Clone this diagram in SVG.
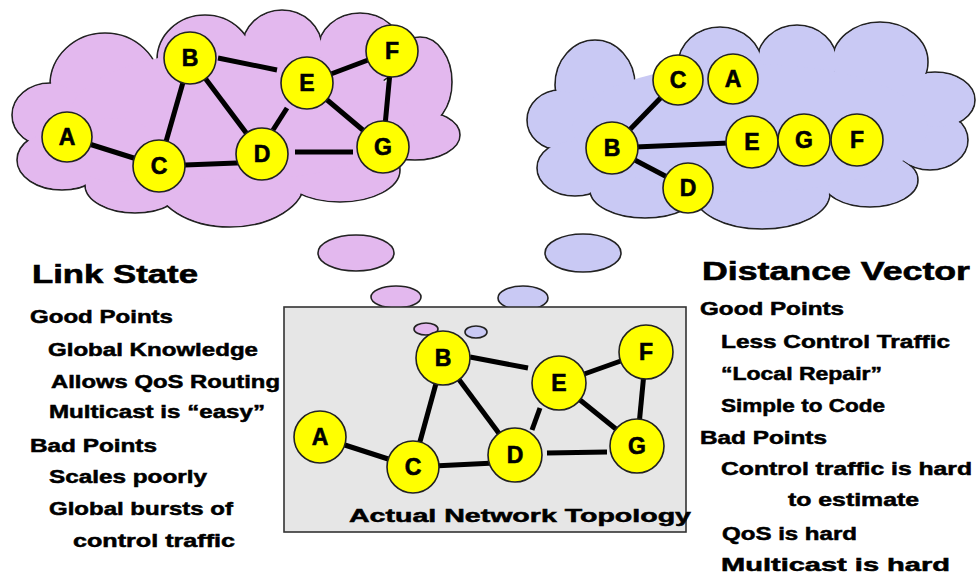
<svg xmlns="http://www.w3.org/2000/svg" width="976" height="576" viewBox="0 0 976 576">
<style>
.pk{fill:#E3B8EE}
.lv{fill:#C9C9F4}
.ol{stroke:#222;stroke-width:1.6}
.nd circle{fill:#FFFF00;stroke:#222;stroke-width:1.6}
.nd text{font-family:"Liberation Sans",Arial,sans-serif;font-weight:bold;font-size:23px;text-anchor:middle;fill:#000;stroke:#000;stroke-width:0.6}
.ed line{stroke:#000;stroke-width:5;stroke-linecap:butt}
.t{font-family:"Liberation Sans",Arial,sans-serif;font-weight:bold;fill:#000;stroke:#000;stroke-width:0.5;font-size:18px}
.h{font-size:26px;stroke-width:0.6}
</style>
<rect width="976" height="576" fill="#fff"/>

<g id="cloud-link-state">
<g class="pk ol">
<ellipse cx="105" cy="85" rx="55" ry="52"/>
<ellipse cx="50" cy="115" rx="38" ry="32"/>
<ellipse cx="62" cy="160" rx="45" ry="30"/>
<ellipse cx="135" cy="185" rx="50" ry="28"/>
<ellipse cx="230" cy="180" rx="75" ry="47"/>
<ellipse cx="340" cy="170" rx="60" ry="32"/>
<ellipse cx="415" cy="135" rx="45" ry="25"/>
<ellipse cx="420" cy="82" rx="32" ry="45"/>
<ellipse cx="360" cy="50" rx="42" ry="37"/>
<ellipse cx="282" cy="48" rx="40" ry="38"/>
<ellipse cx="205" cy="60" rx="48" ry="45"/>
</g>
<g class="pk">
<ellipse cx="105" cy="85" rx="54" ry="51"/>
<ellipse cx="50" cy="115" rx="37" ry="31"/>
<ellipse cx="62" cy="160" rx="44" ry="29"/>
<ellipse cx="135" cy="185" rx="49" ry="27"/>
<ellipse cx="230" cy="180" rx="74" ry="46"/>
<ellipse cx="340" cy="170" rx="59" ry="31"/>
<ellipse cx="415" cy="135" rx="44" ry="24"/>
<ellipse cx="420" cy="82" rx="31" ry="44"/>
<ellipse cx="360" cy="50" rx="41" ry="36"/>
<ellipse cx="282" cy="48" rx="39" ry="37"/>
<ellipse cx="205" cy="60" rx="47" ry="44"/>
<ellipse cx="240" cy="115" rx="170" ry="65"/>
<ellipse cx="115" cy="150" rx="45" ry="32"/>
</g>
</g>

<g id="cloud-distance-vector">
<g class="lv ol">
<ellipse cx="595" cy="85" rx="40" ry="45"/>
<ellipse cx="560" cy="120" rx="33" ry="30"/>
<ellipse cx="575" cy="168" rx="38" ry="28"/>
<ellipse cx="645" cy="190" rx="55" ry="28"/>
<ellipse cx="762" cy="193" rx="68" ry="36"/>
<ellipse cx="870" cy="180" rx="48" ry="27"/>
<ellipse cx="930" cy="140" rx="38" ry="30"/>
<ellipse cx="935" cy="100" rx="40" ry="28"/>
<ellipse cx="880" cy="62" rx="48" ry="40"/>
<ellipse cx="797" cy="62" rx="40" ry="37"/>
<ellipse cx="720" cy="65" rx="42" ry="38"/>
</g>
<g class="lv">
<ellipse cx="595" cy="85" rx="39" ry="44"/>
<ellipse cx="560" cy="120" rx="32" ry="29"/>
<ellipse cx="575" cy="168" rx="37" ry="27"/>
<ellipse cx="645" cy="190" rx="54" ry="27"/>
<ellipse cx="762" cy="193" rx="67" ry="35"/>
<ellipse cx="870" cy="180" rx="47" ry="26"/>
<ellipse cx="930" cy="140" rx="37" ry="29"/>
<ellipse cx="935" cy="100" rx="39" ry="27"/>
<ellipse cx="880" cy="62" rx="47" ry="39"/>
<ellipse cx="797" cy="62" rx="39" ry="36"/>
<ellipse cx="720" cy="65" rx="41" ry="37"/>
<ellipse cx="750" cy="128" rx="178" ry="64"/>
</g>
</g>

<g id="thought-bubbles">
<ellipse class="pk ol" cx="356" cy="253" rx="38" ry="18"/>
<ellipse class="pk ol" cx="396" cy="297" rx="25" ry="11"/>
<ellipse class="lv ol" cx="583" cy="253" rx="38" ry="19"/>
<ellipse class="lv ol" cx="523" cy="298" rx="25" ry="12"/>
</g>

<g id="topology-box">
<rect x="284" y="307" width="402" height="225" fill="#E6E6E6" stroke="#333" stroke-width="1.6"/>
<ellipse class="pk ol" cx="426" cy="329" rx="12" ry="6"/>
<ellipse class="lv ol" cx="476" cy="332" rx="11" ry="6"/>
<text class="t" x="349" y="522" font-size="22" textLength="342" lengthAdjust="spacingAndGlyphs">Actual Network Topology</text>
</g>

<g id="connectors" class="ed">
<line x1="218" y1="58" x2="277" y2="70"/>
<line x1="190" y1="58" x2="159" y2="166"/>
<line x1="190" y1="58" x2="262" y2="154"/>
<line x1="307" y1="83" x2="392" y2="51"/>
<line x1="307" y1="83" x2="383" y2="147"/>
<line x1="273" y1="130" x2="287" y2="108"/>
<line x1="295" y1="152" x2="353" y2="152"/>
<line x1="392" y1="51" x2="383" y2="147"/>
<line x1="67" y1="137" x2="159" y2="166"/>
<line x1="159" y1="166" x2="262" y2="162"/>
<line x1="612" y1="148" x2="678" y2="80"/>
<line x1="612" y1="148" x2="752" y2="142"/>
<line x1="612" y1="148" x2="688" y2="188" stroke-width="7"/>
<line x1="470" y1="357" x2="528" y2="368" stroke-width="4"/>
<line x1="443" y1="358" x2="413" y2="467" stroke-width="6"/>
<line x1="443" y1="358" x2="515" y2="455" stroke-width="5"/>
<line x1="559" y1="383" x2="646" y2="352" stroke-width="6"/>
<line x1="559" y1="383" x2="637" y2="446" stroke-width="6"/>
<line x1="532" y1="430" x2="540" y2="408" stroke-width="4"/>
<line x1="547" y1="453" x2="607" y2="452" stroke-width="6"/>
<line x1="646" y1="352" x2="637" y2="446" stroke-width="6"/>
<line x1="320" y1="437" x2="413" y2="467" stroke-width="6"/>
<line x1="413" y1="467" x2="515" y2="462" stroke-width="6"/>
</g>

<g id="ls-A" class="nd"><circle cx="67" cy="137" r="25"/><text x="67" y="145">A</text></g>
<g id="ls-B" class="nd"><circle cx="190" cy="58" r="26"/><text x="190" y="66">B</text></g>
<g id="ls-C" class="nd"><circle cx="159" cy="166" r="26"/><text x="159" y="174">C</text></g>
<g id="ls-D" class="nd"><circle cx="262" cy="154" r="26"/><text x="262" y="162">D</text></g>
<g id="ls-E" class="nd"><circle cx="307" cy="83" r="26"/><text x="307" y="91">E</text></g>
<g id="ls-F" class="nd"><circle cx="392" cy="51" r="26"/><text x="392" y="59">F</text></g>
<g id="ls-G" class="nd"><circle cx="383" cy="147" r="26"/><text x="383" y="155">G</text></g>

<g id="dv-C" class="nd"><circle cx="678" cy="80" r="25"/><text x="678" y="88">C</text></g>
<g id="dv-A" class="nd"><circle cx="733" cy="79" r="25"/><text x="733" y="87">A</text></g>
<g id="dv-B" class="nd"><circle cx="612" cy="148" r="26"/><text x="612" y="156">B</text></g>
<g id="dv-D" class="nd"><circle cx="688" cy="188" r="25"/><text x="688" y="196">D</text></g>
<g id="dv-E" class="nd"><circle cx="752" cy="142" r="26"/><text x="752" y="150">E</text></g>
<g id="dv-G" class="nd"><circle cx="804" cy="140" r="26"/><text x="804" y="148">G</text></g>
<g id="dv-F" class="nd"><circle cx="857" cy="140" r="26"/><text x="857" y="148">F</text></g>

<g id="net-A" class="nd"><circle cx="320" cy="437" r="26"/><text x="320" y="445">A</text></g>
<g id="net-B" class="nd"><circle cx="443" cy="358" r="27"/><text x="443" y="366">B</text></g>
<g id="net-C" class="nd"><circle cx="413" cy="467" r="26"/><text x="413" y="475">C</text></g>
<g id="net-D" class="nd"><circle cx="515" cy="455" r="27"/><text x="515" y="463">D</text></g>
<g id="net-E" class="nd"><circle cx="559" cy="383" r="27"/><text x="559" y="391">E</text></g>
<g id="net-F" class="nd"><circle cx="646" cy="352" r="27"/><text x="646" y="360">F</text></g>
<g id="net-G" class="nd"><circle cx="637" cy="446" r="27"/><text x="637" y="454">G</text></g>

<g id="link-state-text">
<text class="t h" x="32" y="283" textLength="166" lengthAdjust="spacingAndGlyphs">Link State</text>
<text class="t" x="30" y="323" textLength="143" lengthAdjust="spacingAndGlyphs">Good Points</text>
<text class="t" x="48" y="356" textLength="210" lengthAdjust="spacingAndGlyphs">Global Knowledge</text>
<text class="t" x="51" y="388" textLength="229" lengthAdjust="spacingAndGlyphs">Allows QoS Routing</text>
<text class="t" x="49" y="418" textLength="216" lengthAdjust="spacingAndGlyphs">Multicast is “easy”</text>
<text class="t" x="30" y="452" textLength="127" lengthAdjust="spacingAndGlyphs">Bad Points</text>
<text class="t" x="49" y="483" textLength="158" lengthAdjust="spacingAndGlyphs">Scales poorly</text>
<text class="t" x="49" y="515" textLength="184" lengthAdjust="spacingAndGlyphs">Global bursts of</text>
<text class="t" x="73" y="547" textLength="162" lengthAdjust="spacingAndGlyphs">control traffic</text>
</g>

<g id="distance-vector-text">
<text class="t h" x="702" y="280" font-size="27" textLength="268" lengthAdjust="spacingAndGlyphs">Distance Vector</text>
<text class="t" x="700" y="315" textLength="144" lengthAdjust="spacingAndGlyphs">Good Points</text>
<text class="t" x="721" y="348" textLength="229" lengthAdjust="spacingAndGlyphs">Less Control Traffic</text>
<text class="t" x="721" y="380" textLength="161" lengthAdjust="spacingAndGlyphs">“Local Repair”</text>
<text class="t" x="721" y="412" textLength="164" lengthAdjust="spacingAndGlyphs">Simple to Code</text>
<text class="t" x="700" y="444" textLength="127" lengthAdjust="spacingAndGlyphs">Bad Points</text>
<text class="t" x="721" y="475" textLength="251" lengthAdjust="spacingAndGlyphs">Control traffic is hard</text>
<text class="t" x="788" y="506" textLength="131" lengthAdjust="spacingAndGlyphs">to estimate</text>
<text class="t" x="722" y="540" textLength="135" lengthAdjust="spacingAndGlyphs">QoS is hard</text>
<text class="t" x="721" y="571" textLength="229" lengthAdjust="spacingAndGlyphs">Multicast is hard</text>
</g>
</svg>
